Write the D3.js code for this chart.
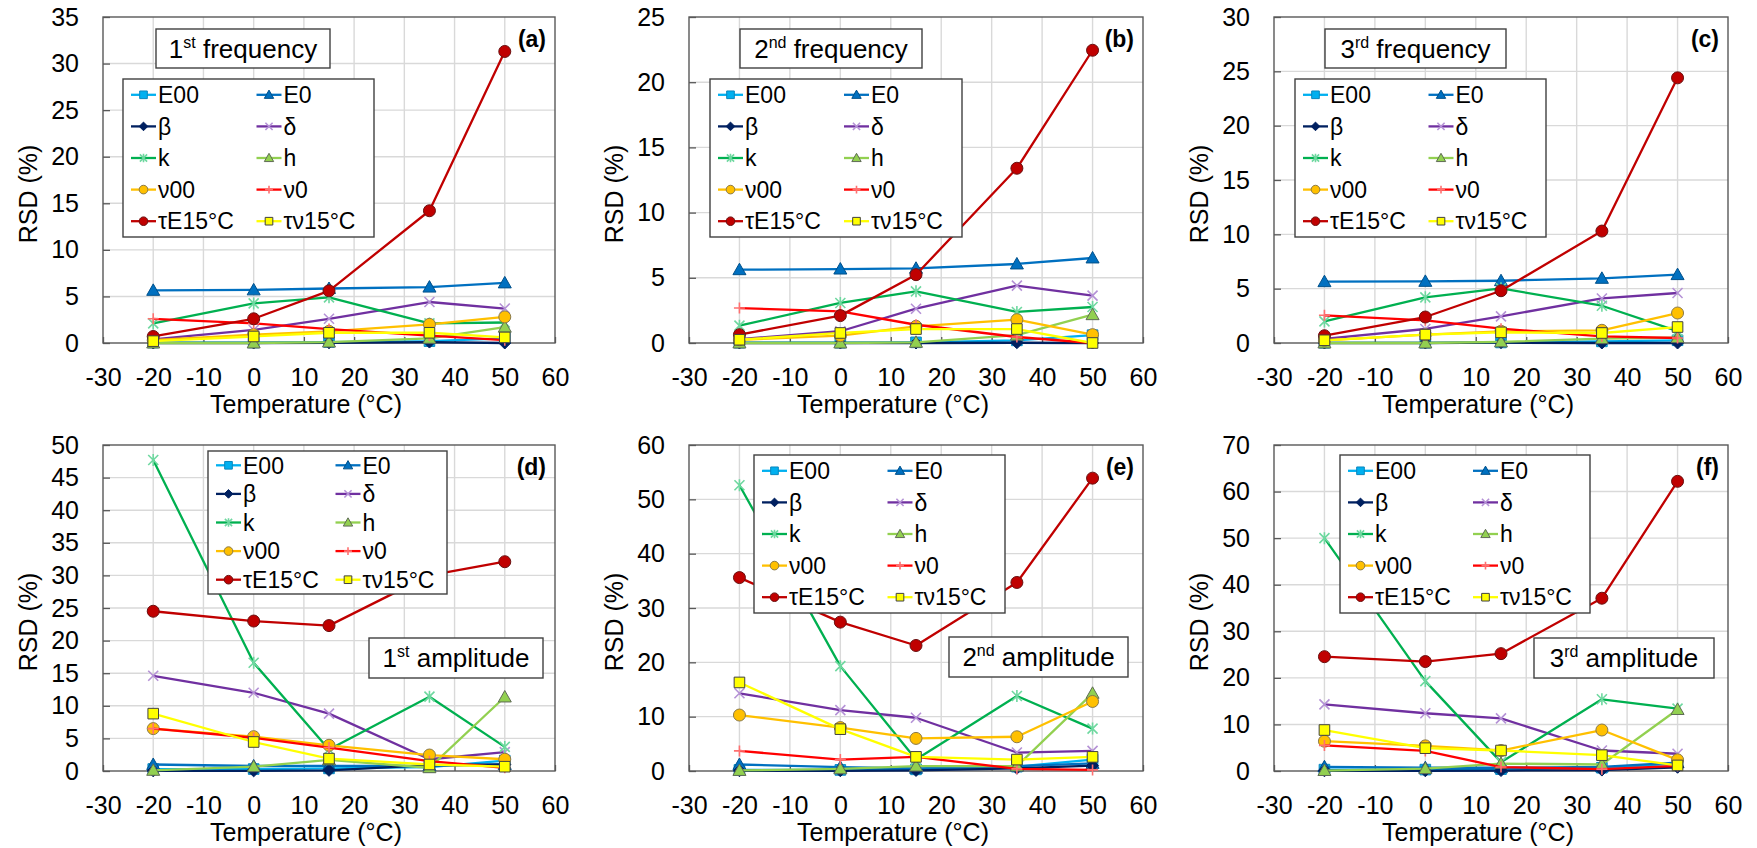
<!DOCTYPE html>
<html>
<head>
<meta charset="utf-8">
<script src="https://cdn.jsdelivr.net/npm/d3@7"></script>
<style>
  body { margin: 0; background: #fff; }
  svg { display: block; }
  text { font-family: "Liberation Sans", Arial, sans-serif; fill: #000; }
</style>
</head>
<body>
<div id="vis"></div>
<script>
// temperatures (°C) and x tick labels
var temps = [-20, 0, 15, 35, 50];
var xTicks = [-30, -20, -10, 0, 10, 20, 30, 40, 50, 60];

// series, in drawing / legend order
var names = ["E00", "E0", "β", "δ", "k", "h", "ν00", "ν0", "τE15°C", "τν15°C"];

// RSD (%), one row per series (same order as names)
var freq1 = [
  [0.05, 0.05, 0.1, 0.2, 0.5],
  [5.65, 5.7, 5.85, 6.0, 6.45],
  [0, 0, 0.02, 0.1, 0],
  [0.4, 1.4, 2.6, 4.4, 3.7],
  [2.1, 4.25, 4.9, 2.1, 2.2],
  [0, 0, 0.1, 0.5, 1.7],
  [0.3, 0.9, 1.25, 2.0, 2.8],
  [2.6, 2.1, 1.5, 0.8, 0.3],
  [0.7, 2.6, 5.6, 14.2, 31.3],
  [0.2, 0.7, 1.1, 1.1, 0.6]
];
var freq2 = [
  [0.02, 0.02, 0.05, 0.2, 0.6],
  [5.62, 5.67, 5.73, 6.06, 6.52],
  [0, 0, 0, 0.02, 0],
  [0.3, 0.9, 2.63, 4.4, 3.63],
  [1.33, 3.07, 3.96, 2.38, 2.76],
  [0, 0, 0.05, 0.6, 2.17],
  [0.25, 0.56, 1.28, 1.79, 0.64],
  [2.68, 2.43, 1.4, 0.46, 0],
  [0.64, 2.1, 5.24, 13.4, 22.45],
  [0.25, 0.77, 1.07, 1.07, 0]
];
var freq3 = [
  [0.02, 0.02, 0.05, 0.15, 0.25],
  [5.64, 5.67, 5.73, 5.95, 6.29],
  [0, 0, 0.03, 0, 0],
  [0.37, 1.29, 2.45, 4.1, 4.6],
  [1.99, 4.2, 5.03, 3.43, 1.1],
  [0, 0, 0.1, 0.4, 0.5],
  [0.25, 0.77, 1.07, 1.17, 2.76],
  [2.55, 2.09, 1.32, 0.61, 0.46],
  [0.67, 2.39, 4.81, 10.3, 24.4],
  [0.25, 0.77, 0.98, 0.92, 1.47]
];
var amp1 = [
  [0.3, 0.3, 0.4, 0.6, 1.6],
  [1.0, 0.77, 0.8, 0.8, 1.0],
  [0.02, 0.02, 0.1, 0.9, 1.0],
  [14.6, 12.0, 8.8, 1.8, 2.9],
  [47.7, 16.6, 3.3, 11.4, 3.7],
  [0.1, 0.66, 1.7, 0.5, 11.35],
  [6.5, 5.27, 3.94, 2.45, 1.8],
  [6.5, 5.1, 3.6, 1.5, 0.5],
  [24.5, 23.0, 22.3, 30.0, 32.1],
  [8.8, 4.45, 1.9, 1.0, 0.66]
];
var amp2 = [
  [0.2, 0.2, 0.3, 0.8, 2.1],
  [1.2, 0.7, 0.5, 0.9, 1.4],
  [0.05, 0.05, 0.1, 0.5, 1.0],
  [14.3, 11.2, 9.8, 3.4, 3.7],
  [52.6, 19.3, 2.1, 13.8, 7.8],
  [0.1, 0.4, 0.9, 0.9, 14.3],
  [10.3, 8.0, 6.0, 6.3, 12.8],
  [3.7, 2.1, 2.6, 0.4, 0.2],
  [35.6, 27.4, 23.1, 34.7, 53.9],
  [16.3, 7.7, 2.6, 2.1, 2.6]
];
var amp3 = [
  [0.3, 0.3, 0.4, 0.7, 1.6],
  [0.9, 0.7, 0.7, 0.9, 1.8],
  [0.05, 0.05, 0.1, 0.2, 0.8],
  [14.3, 12.4, 11.3, 4.4, 3.7],
  [50.0, 19.3, 1.9, 15.4, 13.4],
  [0.1, 0.5, 1.6, 1.4, 13.2],
  [6.4, 5.4, 4.4, 8.8, 2.4],
  [5.5, 4.3, 0.85, 0.4, 1.1],
  [24.55, 23.5, 25.2, 37.1, 62.2],
  [8.8, 4.9, 4.4, 3.4, 1.2]
];

// look of each series
var styles = [
  { line: "#00b0f0", mark: "square",   fill: "#00b0f0", stroke: "#0a86bd" },
  { line: "#0070c0", mark: "triangle", fill: "#0070c0", stroke: "#00508a" },
  { line: "#002060", mark: "diamond",  fill: "#002060", stroke: "#002060" },
  { line: "#7030a0", mark: "x",        fill: "none",    stroke: "#b592d6" },
  { line: "#00b050", mark: "star",     fill: "none",    stroke: "#6fd8a0" },
  { line: "#92d050", mark: "triangle", fill: "#92d050", stroke: "#5f6b55" },
  { line: "#ffc000", mark: "circle",   fill: "#ffc000", stroke: "#8a7a4a" },
  { line: "#ff0000", mark: "plus",     fill: "none",    stroke: "#ff7070" },
  { line: "#c00000", mark: "circle",   fill: "#c00000", stroke: "#6a1010" },
  { line: "#ffff00", mark: "square",   fill: "#ffff00", stroke: "#404040" }
];

// panel layout
var panels = [
  { label: "(a)", data: freq1, ymax: 35, ystep: 5, x0: 103, x1: 555, y0: 17, y1: 343,
    title: ["1", "st", " frequency"], tbox: [156, 29, 330, 68], leg: [123, 79, 374, 237] },
  { label: "(b)", data: freq2, ymax: 25, ystep: 5, x0: 689, x1: 1143, y0: 17, y1: 343,
    title: ["2", "nd", " frequency"], tbox: [740, 29, 922, 68], leg: [710, 79, 962, 237] },
  { label: "(c)", data: freq3, ymax: 30, ystep: 5, x0: 1274, x1: 1728, y0: 17, y1: 343,
    title: ["3", "rd", " frequency"], tbox: [1325, 29, 1506, 68], leg: [1295, 79, 1546, 237] },
  { label: "(d)", data: amp1, ymax: 50, ystep: 5, x0: 103, x1: 555, y0: 445, y1: 771,
    title: ["1", "st", " amplitude"], tbox: [369, 638, 543, 678], leg: [208, 451, 447, 594] },
  { label: "(e)", data: amp2, ymax: 60, ystep: 10, x0: 689, x1: 1143, y0: 445, y1: 771,
    title: ["2", "nd", " amplitude"], tbox: [949, 637, 1128, 677], leg: [754, 455, 1005, 613] },
  { label: "(f)", data: amp3, ymax: 70, ystep: 10, x0: 1274, x1: 1728, y0: 445, y1: 771,
    title: ["3", "rd", " amplitude"], tbox: [1534, 638, 1714, 678], leg: [1340, 455, 1590, 613] }
];

// marker outline centred on 0,0 ; s = half size
function markerPath(type, s) {
  if (type === "square") return "M" + (-s) + "," + (-s) + "h" + 2 * s + "v" + 2 * s + "h" + (-2 * s) + "Z";
  if (type === "circle") return "M" + s + ",0A" + s + "," + s + " 0 1 1 " + (-s) + ",0A" + s + "," + s + " 0 1 1 " + s + ",0Z";
  if (type === "triangle") return "M0," + (-s * 1.05) + "L" + (s * 1.05) + "," + (s * 0.8) + "L" + (-s * 1.05) + "," + (s * 0.8) + "Z";
  if (type === "diamond") return "M0," + (-s) + "L" + s + ",0L0," + s + "L" + (-s) + ",0Z";
  if (type === "x") return "M" + (-s) + "," + (-s) + "L" + s + "," + s + "M" + (-s) + "," + s + "L" + s + "," + (-s);
  if (type === "star") return "M" + (-s) + "," + (-s) + "L" + s + "," + s + "M" + (-s) + "," + s + "L" + s + "," + (-s) + "M0," + (-s * 1.2) + "L0," + (s * 1.2);
  if (type === "plus") return "M" + (-s) + ",0L" + s + ",0M0," + (-s) + "L0," + s;
}
var markSize = { square: 5.3, circle: 6, triangle: 6.2, diamond: 6, x: 5, star: 5, plus: 5.5 };

function drawMarker(sel, st, scale) {
  var open = st.fill === "none";
  sel.append("path")
    .attr("d", markerPath(st.mark, markSize[st.mark] * scale))
    .attr("fill", st.fill)
    .attr("stroke", st.stroke)
    .attr("stroke-width", open ? 1.6 : 1);
}

var svg = d3.select("#vis").append("svg")
  .attr("width", 1757)
  .attr("height", 848);

svg.append("rect").attr("width", 1757).attr("height", 848).attr("fill", "#fff");

panels.forEach(function(p) {
  var x = d3.scaleLinear().domain([-30, 60]).range([p.x0, p.x1]);
  var y = d3.scaleLinear().domain([0, p.ymax]).range([p.y1, p.y0]);
  var yTicks = d3.range(0, p.ymax + 0.001, p.ystep);
  var g = svg.append("g");

  // gridlines
  g.selectAll(".gx").data(xTicks.slice(1, -1)).enter().append("line")
    .attr("x1", function(d) { return x(d); }).attr("x2", function(d) { return x(d); })
    .attr("y1", p.y0).attr("y2", p.y1)
    .attr("stroke", "#d9d9d9").attr("stroke-width", 1.4);
  g.selectAll(".gy").data(yTicks.slice(1, -1)).enter().append("line")
    .attr("x1", p.x0).attr("x2", p.x1)
    .attr("y1", function(d) { return y(d); }).attr("y2", function(d) { return y(d); })
    .attr("stroke", "#d9d9d9").attr("stroke-width", 1.4);

  // axes, ticks pointing inwards
  var xa = g.append("g").attr("transform", "translate(0," + p.y1 + ")")
    .call(d3.axisBottom(x).tickValues(xTicks).tickSizeInner(-6).tickSizeOuter(0).tickPadding(25)
      .tickFormat(function(d) { return String(d); }));
  var ya = g.append("g").attr("transform", "translate(" + p.x0 + ",0)")
    .call(d3.axisLeft(y).tickValues(yTicks).tickSizeInner(-7).tickSizeOuter(0).tickPadding(24)
      .tickFormat(function(d) { return String(d); }));
  [xa, ya].forEach(function(a) {
    a.select(".domain").remove();
    a.selectAll(".tick line").attr("stroke", "#595959").attr("stroke-width", 1.3);
    a.selectAll(".tick text").attr("font-size", 25).attr("fill", "#000")
      .style("font-family", "'Liberation Sans', Arial, sans-serif");
  });

  // frame
  g.append("rect")
    .attr("x", p.x0).attr("y", p.y0)
    .attr("width", p.x1 - p.x0).attr("height", p.y1 - p.y0)
    .attr("fill", "none").attr("stroke", "#595959").attr("stroke-width", 1.4);

  // axis titles
  g.append("text")
    .attr("x", (p.x0 + p.x1) / 2 - 23).attr("y", p.y1 + 70)
    .attr("text-anchor", "middle").attr("font-size", 25)
    .text("Temperature (°C)");
  g.append("text")
    .attr("transform", "translate(" + (p.x0 - 66) + "," + ((p.y0 + p.y1) / 2 + 14) + ") rotate(-90)")
    .attr("text-anchor", "middle").attr("font-size", 25)
    .text("RSD (%)");

  // series
  var line = d3.line()
    .x(function(d, i) { return x(temps[i]); })
    .y(function(d) { return y(d); });

  p.data.forEach(function(vals, si) {
    var st = styles[si];
    var sg = g.append("g");
    sg.append("path")
      .attr("d", line(vals))
      .attr("fill", "none")
      .attr("stroke", st.line)
      .attr("stroke-width", 2.3)
      .attr("stroke-linejoin", "round");
    vals.forEach(function(v, i) {
      var m = sg.append("g").attr("transform", "translate(" + x(temps[i]) + "," + y(v) + ")");
      drawMarker(m, st, 1);
    });
  });

  // legend
  var L = p.leg;
  var lw = L[2] - L[0], lh = L[3] - L[1];
  var lg = g.append("g");
  lg.append("rect")
    .attr("x", L[0]).attr("y", L[1]).attr("width", lw).attr("height", lh)
    .attr("fill", "#fff").attr("stroke", "#404040").attr("stroke-width", 1.4);
  names.forEach(function(n, i) {
    var st = styles[i];
    var col = i % 2, row = Math.floor(i / 2);
    var cx = L[0] + col * lw / 2;
    var cy = L[1] + lh / 5 * (row + 0.5);
    lg.append("line")
      .attr("x1", cx + 8).attr("x2", cx + 33)
      .attr("y1", cy).attr("y2", cy)
      .attr("stroke", st.line).attr("stroke-width", 2.3);
    var m = lg.append("g").attr("transform", "translate(" + (cx + 20.5) + "," + cy + ")");
    drawMarker(m, st, 0.72);
    lg.append("text")
      .attr("x", cx + 35).attr("y", cy).attr("dy", "0.36em")
      .attr("font-size", 23)
      .text(n);
  });

  // title box with superscript
  var T = p.tbox;
  g.append("rect")
    .attr("x", T[0]).attr("y", T[1]).attr("width", T[2] - T[0]).attr("height", T[3] - T[1])
    .attr("fill", "#fff").attr("stroke", "#404040").attr("stroke-width", 1.4);
  var tt = g.append("text")
    .attr("x", (T[0] + T[2]) / 2).attr("y", (T[1] + T[3]) / 2 + 9)
    .attr("text-anchor", "middle").attr("font-size", 26);
  tt.append("tspan").text(p.title[0]);
  tt.append("tspan").attr("font-size", 16).attr("dy", -10).text(p.title[1]);
  tt.append("tspan").attr("dy", 10).text(p.title[2]);

  // panel letter
  g.append("text")
    .attr("x", p.x1 - 9).attr("y", p.y0 + 30)
    .attr("text-anchor", "end").attr("font-size", 23).attr("font-weight", "bold")
    .text(p.label);
});
</script>
</body>
</html>
